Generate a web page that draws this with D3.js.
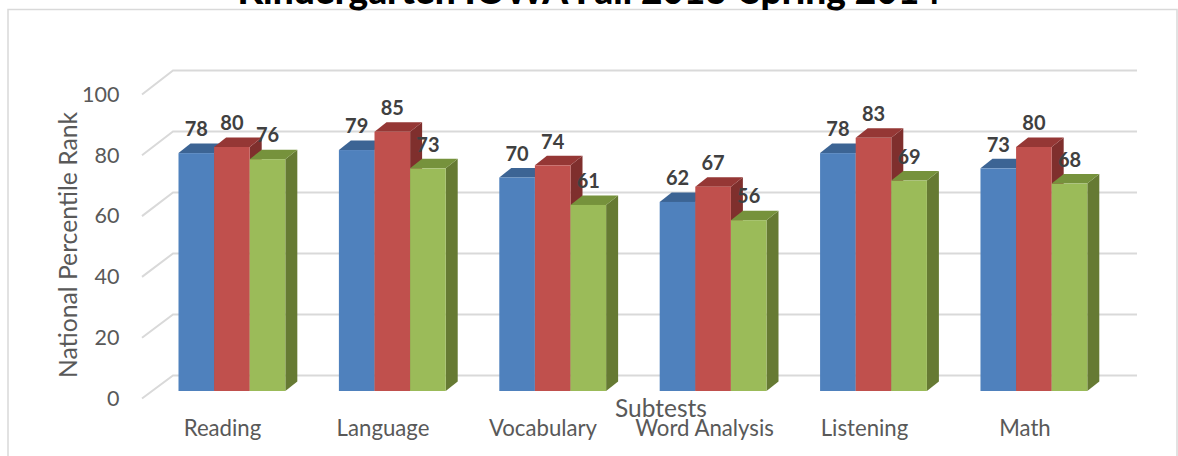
<!DOCTYPE html>
<html><head><meta charset="utf-8">
<script src="https://cdn.jsdelivr.net/npm/d3@7"></script>
<style>html,body{margin:0;padding:0;background:#fff;overflow:hidden}svg{display:block}text{font-family:Lato,"Open Sans",sans-serif}</style>
</head><body><svg id="c" width="1178" height="456"></svg>
<script>
const titleText = "Kindergarten IOWA Fall 2013-Spring 2014";
const categories = ["Reading","Language","Vocabulary","Word Analysis","Listening","Math"];
const seriesA = [78,79,70,62,78,73];
const seriesB = [80,85,74,67,83,80];
const seriesC = [76,73,61,56,69,68];
const yTicks = [0,20,40,60,80,100];
const labelCenters = [222.5,383,543,704.5,864.5,1025];

const svg = d3.select("#c");
const series = [
 {values:seriesA, front:"#4f81bd", top:"#3c6494", side:"#34577f"},
 {values:seriesB, front:"#c0504d", top:"#953735", side:"#7f2f2d"},
 {values:seriesC, front:"#9bbb59", top:"#76923c", side:"#667a33"}
];
const x0 = d3.scaleBand().domain(categories).range([178.5,1087.3]).paddingInner(0.334).paddingOuter(0);
const x1 = d3.scaleBand().domain([0,1,2]).range([0,x0.bandwidth()]);
const yFront = d3.scaleLinear().domain([0,100]).range([391,86]);
const yAxisS = d3.scaleLinear().domain([0,100]).range([398.5,94.5]);
const yWall = d3.scaleLinear().domain([0,100]).range([375.5,70.5]);
const dx = 12, dy = -9.5;

svg.append("rect").attr("x",8).attr("y",9.5).attr("width",1169).attr("height",460)
  .attr("fill","#fff").attr("stroke","#d9d9d9").attr("stroke-width",1.5);

svg.append("text").attr("x",589).attr("y",4).attr("text-anchor","middle")
  .attr("font-size",37).attr("font-weight",900).attr("fill","#000").text(titleText);

// walls / gridlines
const grid = svg.append("g").attr("fill","none").attr("stroke","#d9d9d9").attr("stroke-width",2);
yTicks.forEach(t=>{
  grid.append("path").attr("d",d3.line()([[142,yAxisS(t)],[173,yWall(t)],[1137,yWall(t)]]));
});

// y-axis tick labels through d3 axis
const ax = svg.append("g").attr("transform","translate(127,0)")
  .call(d3.axisLeft(yAxisS).tickValues(yTicks).tickSize(0).tickPadding(7.5));
ax.select(".domain").remove();
ax.selectAll("text").attr("font-size",21.5).attr("fill","#595959").style("font-family","Lato,'Open Sans',sans-serif");

// bars
const groups = svg.selectAll("g.grp").data(categories).join("g").attr("class","grp")
  .attr("transform",d=>`translate(${x0(d)},0)`);
series.forEach((s,si)=>{
  groups.each(function(cat,ci){
    const g = d3.select(this), v = s.values[ci];
    const l = x1(si), r = l + x1.bandwidth(), t = yFront(v), b = yFront(0);
    const poly = pts => pts.map(p=>p.join(",")).join(" ");
    g.append("polygon").attr("fill",s.side).attr("points",poly([[r,t],[r+dx,t+dy],[r+dx,b+dy],[r,b]]));
    g.append("polygon").attr("fill",s.top).attr("points",poly([[l,t],[l+dx,t+dy],[r+dx,t+dy],[r,t]]));
    g.append("rect").attr("x",l).attr("y",t).attr("width",x1.bandwidth()).attr("height",b-t).attr("fill",s.front);
  });
});

// data labels
series.forEach((s,si)=>{
  svg.append("g").selectAll("text").data(categories).join("text")
    .attr("x",d=>x0(d)+x1(si)+x1.bandwidth()/2)
    .attr("y",(d,i)=>yFront(s.values[i])-24)
    .attr("dy","0.36em").attr("text-anchor","middle")
    .attr("font-size",20).attr("font-weight",700).attr("fill","#404040")
    .text((d,i)=>s.values[i]);
});

// category labels
svg.append("g").selectAll("text").data(categories).join("text")
  .attr("x",(d,i)=>labelCenters[i]).attr("y",435.5).attr("text-anchor","middle")
  .attr("font-size",22.2).attr("fill","#595959").text(d=>d);

svg.append("text").attr("x",661).attr("y",417).attr("text-anchor","middle")
  .attr("font-size",24.5).attr("fill","#595959").text("Subtests");
svg.append("text").attr("transform","translate(76.5,245) rotate(-90)").attr("text-anchor","middle")
  .attr("font-size",24.7).attr("fill","#595959").text("National Percentile Rank");
</script></body></html>
